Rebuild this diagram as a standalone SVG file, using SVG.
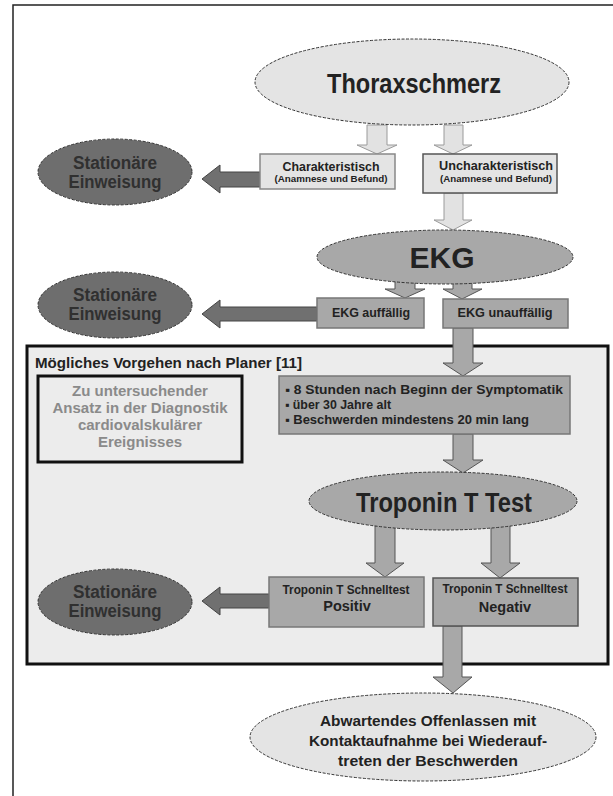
<svg xmlns="http://www.w3.org/2000/svg" width="613" height="796" viewBox="0 0 613 796">
<style>
text{font-family:"Liberation Sans",Arial,sans-serif;font-weight:bold;text-anchor:middle;fill:#222}
.l{text-anchor:start}
.dash{stroke:#333;stroke-width:1;stroke-dasharray:3 1.5}
.light{fill:#e4e4e4}
.mid{fill:#a8a8a8}
.dark{fill:#6e6e6e}
.la{fill:#e2e2e2;stroke:#9a9a9a;stroke-width:1}
.ma{fill:#a8a8a8;stroke:#555;stroke-width:1}
.da{fill:#707070;stroke:#444;stroke-width:1}
.st{fill:#303030;font-size:18px}
.gr{fill:#8a8a8a;font-size:15px}
.bx{stroke:#777;stroke-width:1.5}
</style>
<rect x="13" y="5" width="620" height="810" fill="#fff" stroke="#222" stroke-width="1.5"/>
<g id="frame">
<rect x="27" y="346" width="581" height="318" fill="#ececec" stroke="#111" stroke-width="3"/>
<text class="l" x="35" y="368" font-size="14.5" textLength="267" lengthAdjust="spacingAndGlyphs" fill="#111">Mögliches Vorgehen nach Planer [11]</text>
</g>
<g id="connectors">
<polygon class="la" points="367,125 387,125 387,145 397,145 377,154 357,145 367,145"/>
<polygon class="la" points="444,125 463,125 463,145 472,145 453,154 434,145 444,145"/>
<polygon class="la" points="444,193 463,193 463,220 472,220 453,230 434,220 444,220"/>
<polygon class="da" points="260,172 220,172 220,165 202,179 220,193 220,187 260,187"/>
<polygon class="ma" points="395,275 415,275 415,289 425,289 405,298 385,289 395,289"/>
<polygon class="ma" points="453,275 472,275 472,289 482,289 462,299 443,289 453,289"/>
<polygon class="da" points="317,307 220,307 220,300 202,314 220,328 220,321 317,321"/>
<polygon class="ma" points="453,328 473,328 473,363 483,363 463,376 443,363 453,363"/>
<polygon class="ma" points="453,434 473,434 473,460 483,460 463,473 443,460 453,460"/>
<polygon class="ma" points="375,524 395,524 395,563 404,563 385,577 366,563 375,563"/>
<polygon class="ma" points="491,524 510,524 510,563 520,563 500,578 481,563 491,563"/>
<polygon class="da" points="269,594 220,594 220,587 202,601 220,615 220,608 269,608"/>
<polygon class="ma" points="443,626 462,626 462,677 472,677 453,693 433,677 443,677"/>
</g>
<g id="thorax">
<ellipse class="light dash" cx="412" cy="82" rx="157" ry="43"/>
<text x="414" y="93" font-size="27" textLength="174" lengthAdjust="spacingAndGlyphs">Thoraxschmerz</text>
</g>
<g id="stat1">
<ellipse class="dark dash" cx="115" cy="172" rx="77" ry="33"/>
<text class="st" x="115" y="169" textLength="84" lengthAdjust="spacingAndGlyphs">Stationäre</text>
<text class="st" x="115" y="188" textLength="93" lengthAdjust="spacingAndGlyphs">Einweisung</text>
</g>
<g id="charakt">
<rect x="260" y="154" width="135" height="35" class="light" stroke="#888" stroke-width="1.5"/>
<text x="331" y="171" font-size="12.5" textLength="97" lengthAdjust="spacingAndGlyphs">Charakteristisch</text>
<text x="331" y="182" font-size="9.5" font-weight="normal" fill="#444" textLength="113" lengthAdjust="spacingAndGlyphs">(Anamnese und Befund)</text>
</g>
<g id="uncharakt">
<rect x="423" y="154" width="134" height="39" class="light" stroke="#555" stroke-width="1.5"/>
<text x="496" y="170" font-size="12.5" textLength="114" lengthAdjust="spacingAndGlyphs">Uncharakteristisch</text>
<text x="496" y="182" font-size="9.5" font-weight="normal" fill="#444" textLength="112" lengthAdjust="spacingAndGlyphs">(Anamnese und Befund)</text>
</g>
<g id="ekg">
<ellipse class="mid dash" cx="445" cy="257" rx="128" ry="27"/>
<text x="442" y="268" font-size="30">EKG</text>
</g>
<g id="stat2">
<ellipse class="dark dash" cx="115" cy="305" rx="77" ry="33"/>
<text class="st" x="115" y="301" textLength="84" lengthAdjust="spacingAndGlyphs">Stationäre</text>
<text class="st" x="115" y="320" textLength="93" lengthAdjust="spacingAndGlyphs">Einweisung</text>
</g>
<g id="ekgauff">
<rect x="317" y="298" width="107" height="30" class="mid bx"/>
<text x="371" y="317" font-size="12.5" textLength="78" lengthAdjust="spacingAndGlyphs">EKG auffällig</text>
</g>
<g id="ekgunauff">
<rect x="443" y="299" width="125" height="29" class="mid bx"/>
<text x="505" y="317" font-size="12.5" textLength="95" lengthAdjust="spacingAndGlyphs">EKG unauffällig</text>
</g>
<g id="ansatz">
<rect x="38" y="376" width="204" height="86" fill="#ececec" stroke="#111" stroke-width="3"/>
<text class="gr" x="140" y="396">Zu untersuchender</text>
<text class="gr" x="140" y="413">Ansatz in der Diagnostik</text>
<text class="gr" x="140" y="430">cardiovalskulärer</text>
<text class="gr" x="140" y="447">Ereignisses</text>
</g>
<g id="kriterien">
<rect x="279" y="376" width="291" height="58" class="mid bx"/>
<text class="l" x="285" y="394" font-size="12.5" textLength="278" lengthAdjust="spacingAndGlyphs">▪ 8 Stunden nach Beginn der Symptomatik</text>
<text class="l" x="285" y="409" font-size="12.5" textLength="106" lengthAdjust="spacingAndGlyphs">▪ über 30 Jahre alt</text>
<text class="l" x="285" y="424" font-size="12.5" textLength="244" lengthAdjust="spacingAndGlyphs">▪ Beschwerden mindestens 20 min lang</text>
</g>
<g id="troponin">
<ellipse class="mid dash" cx="443" cy="501" rx="134" ry="29"/>
<text x="444" y="512" font-size="28" textLength="176" lengthAdjust="spacingAndGlyphs">Troponin T Test</text>
</g>
<g id="stat3">
<ellipse class="dark dash" cx="115" cy="602" rx="77" ry="33"/>
<text class="st" x="115" y="598" textLength="84" lengthAdjust="spacingAndGlyphs">Stationäre</text>
<text class="st" x="115" y="617" textLength="93" lengthAdjust="spacingAndGlyphs">Einweisung</text>
</g>
<g id="positiv">
<rect x="269" y="577" width="155" height="50" class="mid bx"/>
<text x="346" y="594" font-size="12" textLength="127" lengthAdjust="spacingAndGlyphs">Troponin T Schnelltest</text>
<text x="347" y="611" font-size="14.5">Positiv</text>
</g>
<g id="negativ">
<rect x="433" y="578" width="145" height="48" class="mid" stroke="#555" stroke-width="1.5"/>
<text x="505" y="593" font-size="12" textLength="125" lengthAdjust="spacingAndGlyphs">Troponin T Schnelltest</text>
<text x="505" y="612" font-size="14.5">Negativ</text>
</g>
<g id="abwartend">
<ellipse class="light dash" cx="423" cy="737" rx="173" ry="44"/>
<text x="428" y="726" font-size="14.5" textLength="216" lengthAdjust="spacingAndGlyphs">Abwartendes Offenlassen mit</text>
<text x="428" y="746" font-size="14.5" textLength="238" lengthAdjust="spacingAndGlyphs">Kontaktaufnahme bei Wiederauf-</text>
<text x="428" y="766" font-size="14.5" textLength="180" lengthAdjust="spacingAndGlyphs">treten der Beschwerden</text>
</g>
</svg>
